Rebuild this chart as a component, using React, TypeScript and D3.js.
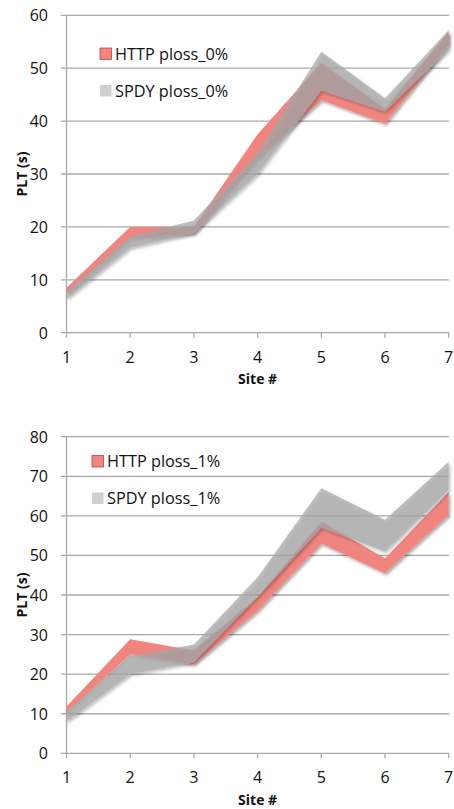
import React from "react";
import * as d3 from "d3";

const sites = [1, 2, 3, 4, 5, 6, 7];

const httpLow0 = [7.3, 17.8, 18.8, 33, 44, 39.5, 54.5];
const httpHigh0 = [8.5, 20, 20, 37.5, 51, 42.3, 57];
const spdyLow0 = [6.4, 16, 18.8, 30, 45.8, 41.8, 53.5];
const spdyHigh0 = [7.8, 18.2, 21.2, 34, 53.1, 44.3, 57.2];

const httpLow1 = [10.3, 25, 22.5, 36, 53, 45.5, 60.2];
const httpHigh1 = [11.8, 28.8, 26, 39.5, 58.5, 49.3, 66];
const spdyLow1 = [8, 20, 23, 39.5, 57, 51, 66.5];
const spdyHigh1 = [10.5, 24.5, 27.5, 44.5, 67, 59, 73.7];

const ticks0 = [0, 10, 20, 30, 40, 50, 60];
const ticks1 = [0, 10, 20, 30, 40, 50, 60, 70, 80];

const legend0 = ["HTTP ploss_0%", "SPDY ploss_0%"];
const legend1 = ["HTTP ploss_1%", "SPDY ploss_1%"];

const FONT = "'Open Sans', 'Liberation Sans', sans-serif";

type PanelProps = {
  yMax: number;
  yTop: number;
  yBottom: number;
  ticks: number[];
  hLow: number[];
  hHigh: number[];
  sLow: number[];
  sHigh: number[];
  legend: string[];
  legX: number;
  legY: number;
};

function Panel(p: PanelProps) {
  const x = d3.scaleLinear().domain([1, 7]).range([66.5, 448.7]);
  const y = d3.scaleLinear().domain([0, p.yMax]).range([p.yBottom, p.yTop]);
  const band = (lo: number[], hi: number[]) =>
    d3
      .area<number>()
      .x((d) => x(d))
      .y0((_, i) => y(lo[i]))
      .y1((_, i) => y(hi[i]))(sites) as string;
  const midY = (p.yTop + p.yBottom) / 2;
  return (
    <g>
      {p.ticks.map((t) => (
        <g key={t}>
          <line x1={61} x2={449} y1={y(t)} y2={y(t)} stroke="#a9a9a9" strokeWidth={1.3} />
          <text x={48} y={y(t)} textAnchor="end" dominantBaseline="central" fontSize={16} fontFamily={FONT} fill="#111">
            {t}
          </text>
        </g>
      ))}
      <line x1={66.5} x2={66.5} y1={p.yTop} y2={p.yBottom} stroke="#a9a9a9" strokeWidth={1.3} />
      {sites.map((s) => (
        <g key={s}>
          <line x1={x(s)} x2={x(s)} y1={p.yBottom} y2={p.yBottom + 5} stroke="#a9a9a9" strokeWidth={1.3} />
          <text x={x(s)} y={p.yBottom + 24} textAnchor="middle" dominantBaseline="central" fontSize={16} fontFamily={FONT} fill="#111">
            {s}
          </text>
        </g>
      ))}
      <path d={band(p.hLow, p.hHigh)} fill="#f0857f" filter="url(#shadow)" />
      <path d={band(p.sLow, p.sHigh)} fill="#a8a8a8" fillOpacity={0.72} filter="url(#shadow)" />
      <rect x={p.legX} y={p.legY - 5.5} width={11.5} height={11.5} fill="#f0857f" stroke="#c04040" strokeWidth={0.8} />
      <text x={p.legX + 15} y={p.legY} dominantBaseline="central" fontSize={16.3} fontFamily={FONT} fill="#111">
        {p.legend[0]}
      </text>
      <rect x={p.legX} y={p.legY + 31.5} width={11.5} height={11.5} fill="#cfcfcf" />
      <text x={p.legX + 15} y={p.legY + 37} dominantBaseline="central" fontSize={16.3} fontFamily={FONT} fill="#111">
        {p.legend[1]}
      </text>
      <text x={x(4)} y={p.yBottom + 46} textAnchor="middle" dominantBaseline="central" fontSize={14} fontWeight="bold" fontFamily={FONT} fill="#111">
        Site #
      </text>
      <text
        transform={`translate(21,${midY}) rotate(-90)`}
        textAnchor="middle"
        dominantBaseline="central"
        fontSize={14}
        fontWeight="bold"
        fontFamily={FONT}
        fill="#111"
      >
        PLT (s)
      </text>
    </g>
  );
}

export default function App() {
  return (
    <svg width={454} height={809} style={{ position: "absolute", left: 0, top: 0, background: "#fff" }}>
      <defs>
        <filter id="shadow" x="-10%" y="-10%" width="120%" height="130%">
          <feDropShadow dx={1.5} dy={2} stdDeviation={1.5} floodColor="#000" floodOpacity={0.35} />
        </filter>
      </defs>
      <Panel
        yMax={60}
        yTop={15.3}
        yBottom={332.7}
        ticks={ticks0}
        hLow={httpLow0}
        hHigh={httpHigh0}
        sLow={spdyLow0}
        sHigh={spdyHigh0}
        legend={legend0}
        legX={100}
        legY={53.5}
      />
      <Panel
        yMax={80}
        yTop={436.7}
        yBottom={753.3}
        ticks={ticks1}
        hLow={httpLow1}
        hHigh={httpHigh1}
        sLow={spdyLow1}
        sHigh={spdyHigh1}
        legend={legend1}
        legX={92}
        legY={461}
      />
    </svg>
  );
}
